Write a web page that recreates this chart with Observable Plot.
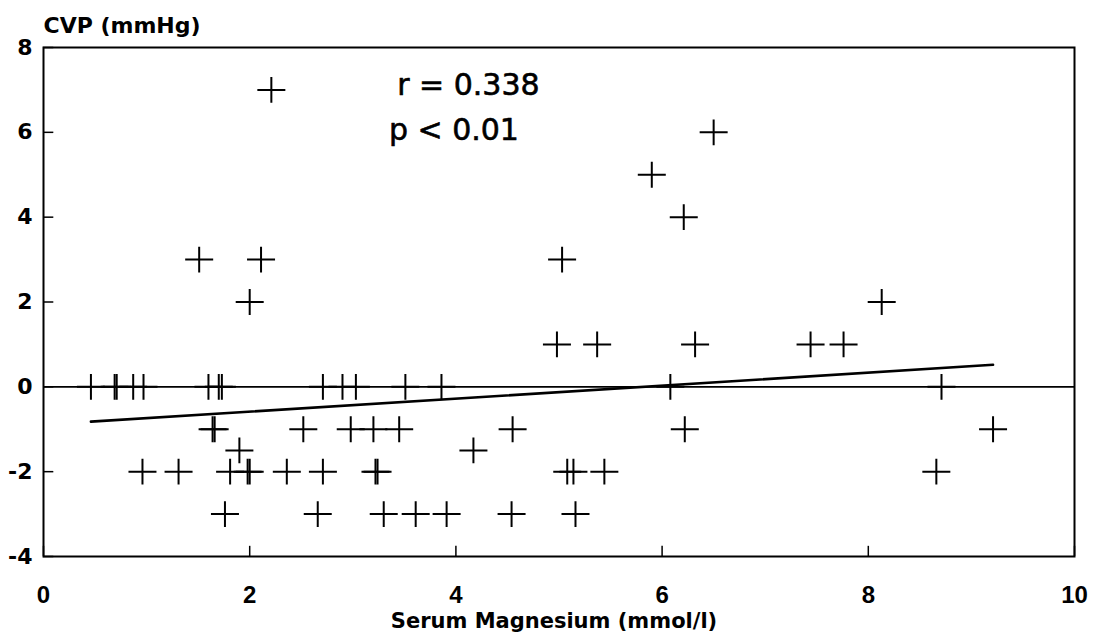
<!DOCTYPE html>
<html>
<head>
<meta charset="utf-8">
<script src="https://cdn.jsdelivr.net/npm/d3@7"></script>
<script src="https://cdn.jsdelivr.net/npm/@observablehq/plot@0.6"></script>
<style>
  html, body { margin: 0; padding: 0; background: #fff; }
  #chart svg { display: block; }
</style>
</head>
<body>
<div id="chart"></div>
<script>
// Serum magnesium (mmol/l) for each patient
const magnesium = [
  // CVP 0
  0.46, 0.69, 0.71, 0.87, 0.97, 1.60, 1.70, 1.73, 2.71, 2.90, 3.03, 3.51, 3.86, 6.08, 8.71,
  // CVP -1
  1.64, 1.66, 2.52, 2.98, 3.20, 3.45, 4.55, 6.22, 9.21,
  // CVP -1.5
  1.90, 4.17,
  // CVP -2
  0.96, 1.31, 1.81, 1.98, 2.00, 2.36, 2.71, 3.22, 3.24, 5.08, 5.14, 5.44, 8.66,
  // CVP -3
  1.76, 2.66, 3.30, 3.61, 3.91, 4.54, 5.16,
  // CVP 1
  4.98, 5.37, 6.32, 7.44, 7.76,
  // CVP 2
  2.00, 8.13,
  // CVP 3
  1.51, 2.11, 5.03,
  // CVP 4, 5, 6, 7
  6.21, 5.90, 6.50, 2.21
];
// Central venous pressure (mmHg), same order
const cvp = [
  0, 0, 0, 0, 0, 0, 0, 0, 0, 0, 0, 0, 0, 0, 0,
  -1, -1, -1, -1, -1, -1, -1, -1, -1,
  -1.5, -1.5,
  -2, -2, -2, -2, -2, -2, -2, -2, -2, -2, -2, -2, -2,
  -3, -3, -3, -3, -3, -3, -3,
  1, 1, 1, 1, 1,
  2, 2,
  3, 3, 3,
  4, 5, 6, 7
];
// Regression line end points as drawn
const fitX = [0.46, 9.21];
const fitY = [-0.82, 0.52];
// Axis ticks
const xTicks = [0, 2, 4, 6, 8, 10];
const yTicks = [-4, -2, 0, 2, 4, 6, 8];
// Statistics annotation
const statLabels = ["r = 0.338", "p < 0.01"];
const statX = [3.43, 3.35];
const statY = [6.87, 5.81];

const points = magnesium.map((m, i) => ({mg: m, cvp: cvp[i]}));
const fit = fitX.map((x, i) => ({x, y: fitY[i]}));
const stats = statLabels.map((t, i) => ({t, x: statX[i], y: statY[i]}));

const cross = {
  draw(context, size) {
    const r = Math.sqrt(size / Math.PI);
    context.moveTo(-r, 0);
    context.lineTo(r, 0);
    context.moveTo(0, -r * 0.92);
    context.lineTo(0, r * 0.92);
  }
};

const chart = Plot.plot({
  width: 1098,
  height: 641,
  marginLeft: 43,
  marginRight: 24,
  marginTop: 47,
  marginBottom: 85,
  style: {background: "#fff", color: "#000", overflow: "visible"},
  x: {domain: [0, 10]},
  y: {domain: [-4, 8]},
  marks: [
    Plot.ruleY([0], {stroke: "#000", strokeWidth: 1.6}),
    Plot.line(fit, {x: "x", y: "y", stroke: "#000", strokeWidth: 2.6}),
    Plot.dot(points, {x: "mg", y: "cvp", symbol: cross, r: 14, stroke: "#000", strokeWidth: 2, fill: "none"}),
    Plot.ruleY(yTicks, {y: d => d, x1: 0, x2: 0.1, stroke: "#000", strokeWidth: 1.5}),
    Plot.ruleX(xTicks, {x: d => d, y1: -4, y2: -3.76, stroke: "#000", strokeWidth: 1.5}),
    Plot.frame({stroke: "#000", strokeWidth: 2}),
    Plot.axisY({ticks: yTicks, tickSize: 0, tickPadding: 11, label: null,
      tickFormat: d => String(d), fontSize: 22, fontWeight: "bold", fontFamily: "DejaVu Sans"}),
    Plot.axisX({ticks: xTicks, tickSize: 0, tickPadding: 29, label: null,
      tickFormat: d => String(d), fontSize: 24, fontWeight: "bold", fontFamily: "Liberation Sans, Arial"}),
    Plot.text(stats, {x: "x", y: "y", text: "t", textAnchor: "start", lineAnchor: "bottom",
      fontSize: 30, fontFamily: "DejaVu Sans", fill: "#000", stroke: "#000", strokeWidth: 0.6}),
    Plot.text(["CVP (mmHg)"], {frameAnchor: "top-left", dy: -15, textAnchor: "start", lineAnchor: "bottom",
      fontSize: 22, fontWeight: "bold", fontFamily: "DejaVu Sans", fill: "#000"}),
    Plot.text(["Serum Magnesium (mmol/l)"], {frameAnchor: "bottom", dx: -5, dy: 71, textAnchor: "middle", lineAnchor: "bottom",
      fontSize: 21, fontWeight: "bold", fontFamily: "DejaVu Sans", fill: "#000"})
  ]
});
document.getElementById("chart").appendChild(chart);
</script>
</body>
</html>
